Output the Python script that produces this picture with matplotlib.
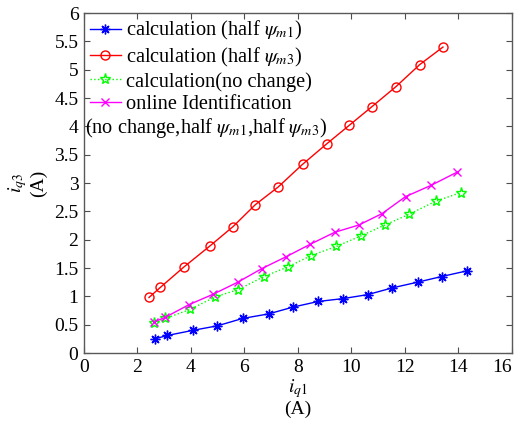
import numpy as np
import matplotlib.pyplot as plt
from matplotlib.ticker import FormatStrFormatter, MultipleLocator

plt.rcParams['font.family'] = ['Liberation Serif', 'DejaVu Serif']
plt.rcParams['mathtext.fontset'] = 'stix'

# calculation, half psi_m1
iq1_half1 = [2.65, 3.12, 4.07, 4.99, 5.93, 6.90, 7.81, 8.76, 9.68, 10.60, 11.53, 12.47, 13.37, 14.32]
iq3_half1 = [0.25, 0.31, 0.40, 0.48, 0.61, 0.69, 0.81, 0.91, 0.96, 1.03, 1.15, 1.25, 1.35, 1.45]

# calculation, half psi_m3
iq1_half3 = [2.43, 2.86, 3.74, 4.71, 5.57, 6.41, 7.26, 8.17, 9.07, 9.92, 10.77, 11.66, 12.55, 13.42]
iq3_half3 = [0.98, 1.16, 1.52, 1.89, 2.23, 2.62, 2.93, 3.33, 3.69, 4.02, 4.35, 4.70, 5.09, 5.40]

# calculation, no change
iq1_nochg = [2.60, 3.04, 3.97, 4.90, 5.77, 6.73, 7.62, 8.49, 9.43, 10.37, 11.25, 12.16, 13.15, 14.08]
iq3_nochg = [0.53, 0.61, 0.77, 0.99, 1.12, 1.35, 1.52, 1.72, 1.88, 2.07, 2.26, 2.45, 2.68, 2.83]

# online identification
iq1_online = [2.63, 3.04, 3.91, 4.84, 5.75, 6.65, 7.56, 8.46, 9.37, 10.28, 11.14, 12.02, 12.98, 13.94]
iq3_online = [0.55, 0.63, 0.85, 1.04, 1.25, 1.49, 1.70, 1.92, 2.13, 2.26, 2.46, 2.76, 2.96, 3.19]

xticks = [0, 2, 4, 6, 8, 10, 12, 14, 16]

fig = plt.figure(figsize=(5.19, 4.21), dpi=100)
ax = fig.add_axes([0.1618, 0.1615, 0.8247, 0.8075])

ax.plot(iq1_half1, iq3_half1, color='b', lw=1, marker=(8, 2, 0), ms=7, mew=1,
        label=r'calculation (half $\psi_{m1}$)')
ax.plot(iq1_half3, iq3_half3, color='r', lw=1, marker='o', ms=6.5, mfc='none', mew=1,
        label=r'calculation (half $\psi_{m3}$)')
ax.plot(iq1_nochg, iq3_nochg, color=(0, 1, 0), lw=1, ls=':', marker='*', ms=8, mfc='none', mew=1,
        label='calculation(no change)')
ax.plot(iq1_online, iq3_online, color=(1, 0, 1), lw=1, marker='x', ms=6, mew=1,
        label='online Identification')

ax.set_xlim(0, 16)
ax.set_ylim(0, 6)
ax.set_xticks(xticks, [str(t) for t in xticks])
ax.yaxis.set_major_locator(MultipleLocator(0.5))
ax.yaxis.set_major_formatter(FormatStrFormatter('%g'))
ax.tick_params(direction='in', top=True, right=True, labelsize=14, length=4,
               color='0.3', pad=4)
for s in ax.spines.values():
    s.set_color('0.35')
    s.set_linewidth(1)

# keep the last x tick label inside the figure
ax.get_xticklabels()[-1].set_horizontalalignment('right')

ax.set_xlabel('$i_{q1}$\n(A)', fontsize=14, labelpad=1, linespacing=1.05)
ax.set_ylabel('$i_{q3}$\n(A)', fontsize=14, labelpad=5, linespacing=1.05)

leg = ax.legend(loc='upper left', frameon=False, fontsize=14.7, handlelength=1.5,
                handletextpad=0.25, labelspacing=0.16, borderaxespad=0.05,
                borderpad=0.25)
ax.text(0.003, 0.662, r'(no change,half $\psi_{m1}$,half $\psi_{m3}$)',
        transform=ax.transAxes, fontsize=14.7, va='center', ha='left')

fig.savefig('out.png', dpi=100)
